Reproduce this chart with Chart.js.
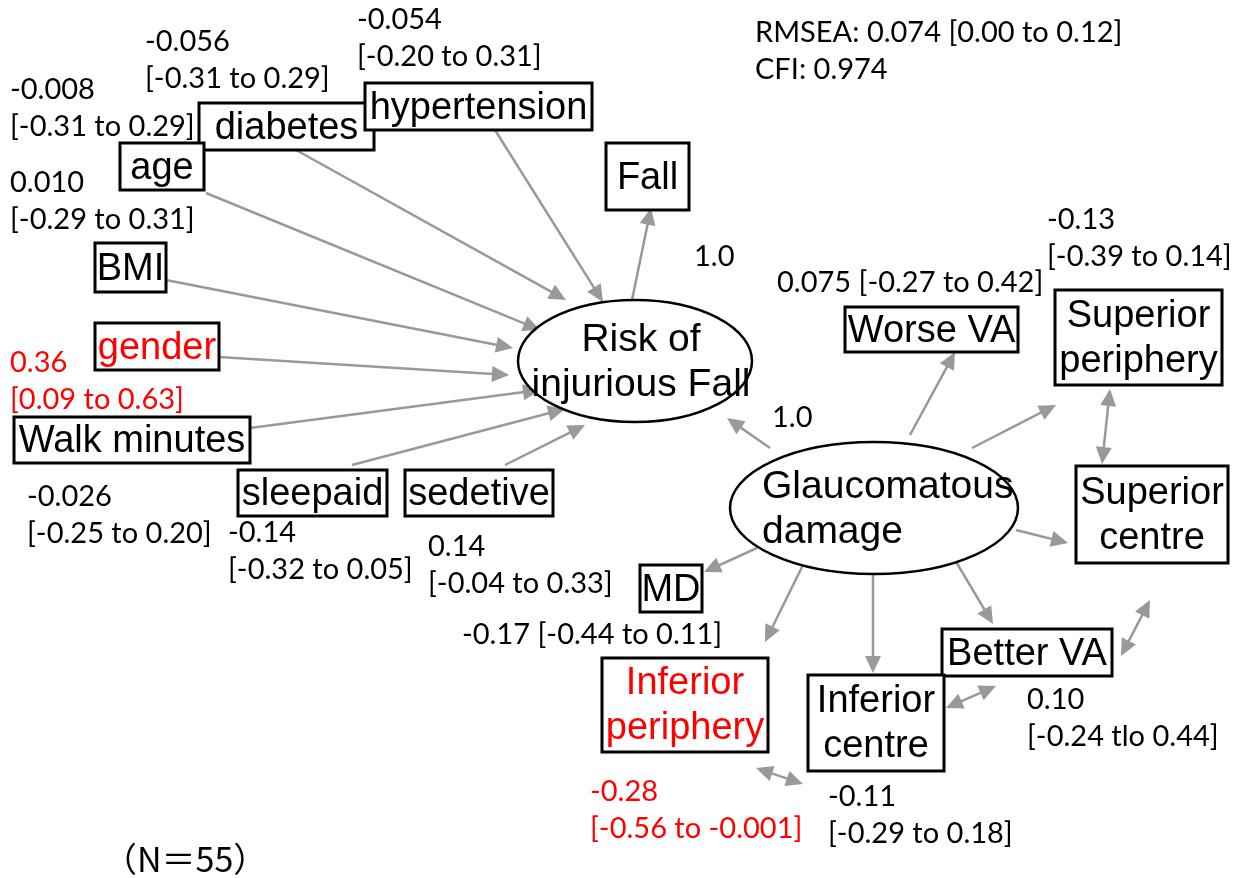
<!DOCTYPE html>
<html>
<head>
<meta charset="utf-8">
<script src="https://cdn.jsdelivr.net/npm/chart.js@4.4.1/dist/chart.umd.min.js"></script>
<style>
  body { margin: 0; background: #fff; }
  #wrap { width: 1236px; height: 878px; }
</style>
</head>
<body>
<div id="wrap"><canvas id="path" width="1236" height="878"></canvas></div>
<script>
// path coefficients, estimate and 95% interval
var predictors = ['diabetes', 'hypertension', 'age', 'BMI', 'gender', 'Walk minutes', 'sleepaid', 'sedetive']
var predEst = ['-0.056', '-0.054', '-0.008', '0.010', '0.36', '-0.026', '-0.14', '0.14']
var predCI = ['[-0.31 to 0.29]', '[-0.20 to 0.31]', '[-0.31 to 0.29]', '[-0.29 to 0.31]', '[0.09 to 0.63]', '[-0.25 to 0.20]', '[-0.32 to 0.05]', '[-0.04 to 0.33]']
var predSig = [false, false, false, false, true, false, false, false]

var indicators = ['Worse VA', 'Superior periphery', 'Superior centre', 'MD', 'Better VA', 'Inferior periphery', 'Inferior centre']
var indEst = ['0.075', '-0.13', '', '-0.17', '0.10', '-0.28', '-0.11']
var indCI = ['[-0.27 to 0.42]', '[-0.39 to 0.14]', '', '[-0.44 to 0.11]', '[-0.24 tlo 0.44]', '[-0.56 to -0.001]', '[-0.29 to 0.18]']
var indSig = [false, false, false, false, false, true, false]

var fixedLoad = ['1.0', '1.0']
var fitLines = ['RMSEA: 0.074 [0.00 to 0.12]', 'CFI: 0.974']
var sampleNote = '（N＝55）'

// layout of the diagram, in the 1236 x 878 drawing units of the axes
var boxes = [
    // name, x0, y0, x1, y1, lines
    ['diabetes', 199, 103, 374, 150, ['diabetes']],
    ['hypertension', 365, 83, 592, 130, ['hypertension']],
    ['age', 120, 143, 204, 190, ['age']],
    ['Fall', 606, 143, 689, 210, ['Fall']],
    ['BMI', 95, 243, 166, 292, ['BMI']],
    ['gender', 95, 323, 219, 370, ['gender']],
    ['Walk minutes', 14, 417, 250, 463, ['Walk minutes']],
    ['sleepaid', 238, 470, 387, 516, ['sleepaid']],
    ['sedetive', 405, 470, 553, 516, ['sedetive']],
    ['Worse VA', 845, 307, 1018, 352, ['Worse VA']],
    ['Superior periphery', 1055, 290, 1222, 385, ['Superior', 'periphery']],
    ['Superior centre', 1076, 466, 1228, 563, ['Superior', 'centre']],
    ['MD', 640, 565, 702, 612, ['MD']],
    ['Better VA', 942, 629, 1112, 676, ['Better VA']],
    ['Inferior periphery', 602, 658, 768, 752, ['Inferior', 'periphery']],
    ['Inferior centre', 808, 675, 944, 771, ['Inferior', 'centre']]
]
var latents = [
    // name, cx, cy, rx, ry, text x, align, lines
    ['Risk of injurious Fall', 635, 361, 117, 61, 641, 'center', ['Risk of', 'injurious Fall']],
    ['Glaucomatous damage', 874, 508, 144, 66, 762, 'left', ['Glaucomatous', 'damage']]
]
var arrows = [
    // x0, y0, x1, y1, two-headed
    [296, 150, 566, 300, false],
    [495, 130, 603, 302, false],
    [206, 193, 540, 330, false],
    [166, 280, 513, 348, false],
    [219, 357, 509, 375, false],
    [250, 428, 540, 390, false],
    [352, 465, 565, 409, false],
    [505, 465, 585, 425, false],
    [632, 300, 651, 208, false],
    [770, 448, 727, 418, false],
    [910, 435, 955, 352, false],
    [972, 448, 1056, 405, false],
    [1016, 530, 1068, 543, false],
    [757, 548, 704, 572, false],
    [803, 565, 765, 642, false],
    [873, 575, 873, 673, false],
    [955, 560, 993, 624, false],
    [1110, 389, 1102, 464, true],
    [1121, 656, 1150, 600, true],
    [946, 708, 996, 686, true],
    [756, 768, 803, 784, true]
]
var predLabelPos = [[145, 42], [357, 20], [10, 90], [10, 183], [10, 363], [27, 497], [228, 533], [428, 547]]
var indLabelPos = [[777, 283, 'inline'], [1047, 220], null, [462, 635, 'inline'], [1027, 700], [590, 792], [828, 797]]
var fixedPos = [[694, 257], [772, 418]]

var nodeFont = '38px "Liberation Sans", Arial, sans-serif'
var latFont = '39px "Liberation Sans", Arial, sans-serif'
var labFont = '29px Lato, "Open Sans", sans-serif'
var edgeColor = '#999999'

var pathPlugin = {
    id: 'pathDiagram',
    afterDatasetsDraw: function (chart) {
        var ctx = chart.ctx
        var sx = chart.scales.x, sy = chart.scales.y
        var X = function (v) { return sx.getPixelForValue(v) }
        var Y = function (v) { return sy.getPixelForValue(v) }

        function head(x0, y0, x1, y1) {
            var a = Math.atan2(y1 - y0, x1 - x0)
            var L = 17, W = 8
            ctx.beginPath()
            ctx.moveTo(x1, y1)
            ctx.lineTo(x1 - L * Math.cos(a) + W * Math.sin(a), y1 - L * Math.sin(a) - W * Math.cos(a))
            ctx.lineTo(x1 - L * Math.cos(a) - W * Math.sin(a), y1 - L * Math.sin(a) + W * Math.cos(a))
            ctx.closePath()
            ctx.fill()
        }

        ctx.save()
        ctx.strokeStyle = edgeColor
        ctx.fillStyle = edgeColor
        ctx.lineWidth = 2.5
        arrows.forEach(function (a) {
            var x0 = X(a[0]), y0 = Y(a[1]), x1 = X(a[2]), y1 = Y(a[3])
            var ang = Math.atan2(y1 - y0, x1 - x0)
            var sx0 = a[4] ? x0 + 12 * Math.cos(ang) : x0
            var sy0 = a[4] ? y0 + 12 * Math.sin(ang) : y0
            ctx.beginPath()
            ctx.moveTo(sx0, sy0)
            ctx.lineTo(x1 - 12 * Math.cos(ang), y1 - 12 * Math.sin(ang))
            ctx.stroke()
            head(x0, y0, x1, y1)
            if (a[4]) head(x1, y1, x0, y0)
        })

        // latent variables
        ctx.lineWidth = 2.5
        ctx.strokeStyle = '#000'
        ctx.textBaseline = 'middle'
        latents.forEach(function (e) {
            ctx.beginPath()
            ctx.ellipse(X(e[1]), Y(e[2]), Math.abs(X(e[3]) - X(0)), Math.abs(Y(e[4]) - Y(0)), 0, 0, Math.PI * 2)
            ctx.fillStyle = '#fff'
            ctx.fill()
            ctx.stroke()
            ctx.fillStyle = '#000'
            ctx.font = latFont
            ctx.textAlign = e[6]
            ctx.fillText(e[7][0], X(e[5]), Y(e[2] - 21))
            ctx.fillText(e[7][1], X(e[5]), Y(e[2] + 24))
        })

        // observed variables
        ctx.lineWidth = 3
        ctx.textAlign = 'center'
        ctx.font = nodeFont
        boxes.forEach(function (b) {
            var x0 = X(b[1]), y0 = Y(b[2]), x1 = X(b[3]), y1 = Y(b[4])
            ctx.fillStyle = '#fff'
            ctx.fillRect(x0, y0, x1 - x0, y1 - y0)
            ctx.strokeRect(x0, y0, x1 - x0, y1 - y0)
            var red = (predictors.indexOf(b[0]) >= 0 && predSig[predictors.indexOf(b[0])]) ||
                (indicators.indexOf(b[0]) >= 0 && indSig[indicators.indexOf(b[0])])
            ctx.fillStyle = red ? '#ff0000' : '#000'
            var cx = (x0 + x1) / 2, cy = (y0 + y1) / 2 + 2
            if (b[5].length === 1) {
                ctx.fillText(b[5][0], cx, cy)
            } else {
                ctx.fillText(b[5][0], cx, cy - 23)
                ctx.fillText(b[5][1], cx, cy + 22)
            }
        })

        // coefficient labels
        ctx.font = labFont
        ctx.textAlign = 'left'
        predictors.forEach(function (p, i) {
            var pos = predLabelPos[i]
            ctx.fillStyle = predSig[i] ? '#ff0000' : '#000'
            ctx.fillText(predEst[i], X(pos[0]), Y(pos[1]))
            ctx.fillText(predCI[i], X(pos[0]), Y(pos[1] + 37))
        })
        indicators.forEach(function (p, i) {
            var pos = indLabelPos[i]
            if (!pos) return
            ctx.fillStyle = indSig[i] ? '#ff0000' : '#000'
            if (pos[2] === 'inline') {
                ctx.fillText(indEst[i] + ' ' + indCI[i], X(pos[0]), Y(pos[1]))
            } else {
                ctx.fillText(indEst[i], X(pos[0]), Y(pos[1]))
                ctx.fillText(indCI[i], X(pos[0]), Y(pos[1] + 37))
            }
        })
        ctx.fillStyle = '#000'
        fixedLoad.forEach(function (t, i) {
            ctx.fillText(t, X(fixedPos[i][0]), Y(fixedPos[i][1]))
        })
        ctx.fillText(fitLines[0], X(755), Y(33))
        ctx.fillText(fitLines[1], X(755), Y(70))

        ctx.font = '34px "Noto Sans CJK JP", sans-serif'
        ctx.fillText(sampleNote, X(103), Y(859))
        ctx.restore()
    }
}

var nodePoints = boxes.map(function (b) { return { x: (b[1] + b[3]) / 2, y: (b[2] + b[4]) / 2 } })

new Chart(document.getElementById('path'), {
    type: 'scatter',
    data: {
        datasets: [{
            label: 'nodes',
            data: nodePoints,
            pointRadius: 0,
            pointHoverRadius: 0
        }]
    },
    options: {
        responsive: false,
        animation: false,
        events: [],
        layout: { padding: 0 },
        plugins: { legend: { display: false }, tooltip: { enabled: false } },
        scales: {
            x: { type: 'linear', min: 0, max: 1236, display: false },
            y: { type: 'linear', min: 0, max: 878, reverse: true, display: false }
        }
    },
    plugins: [pathPlugin]
})
</script>
</body>
</html>
